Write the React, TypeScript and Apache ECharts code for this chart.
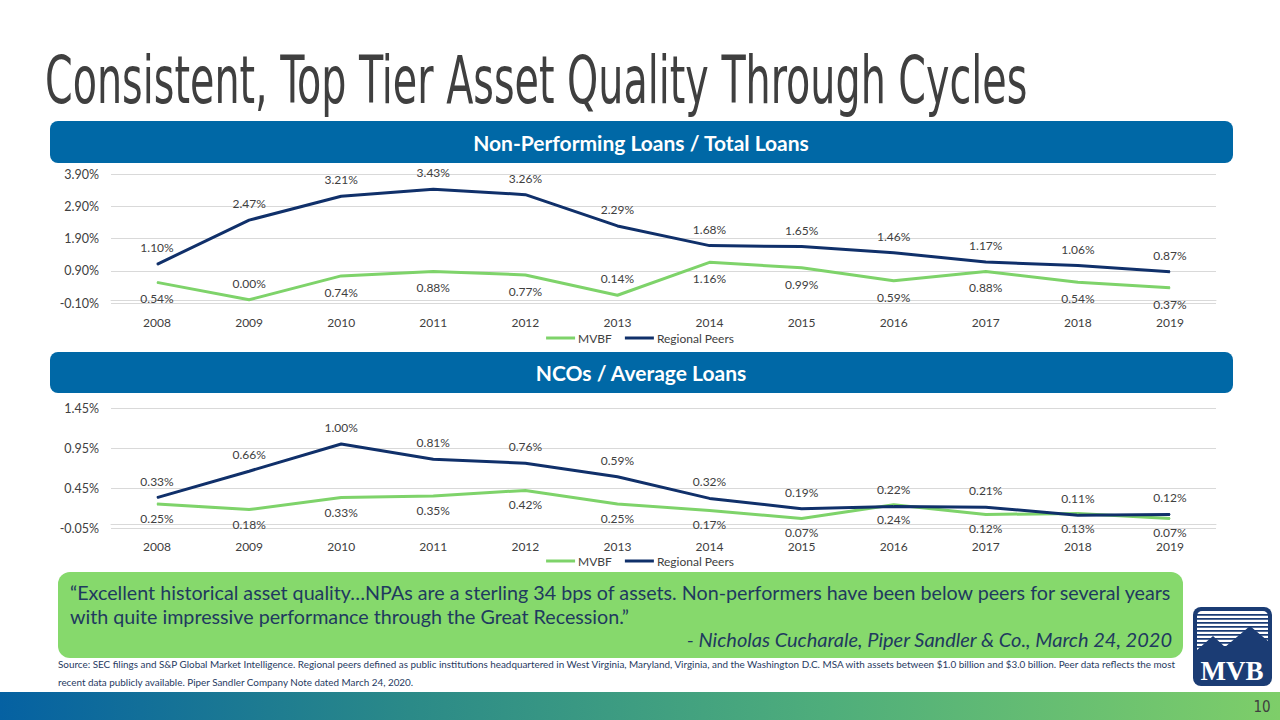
import React, { useEffect, useRef } from "react";
import * as echarts from "echarts";

const years = ["2008", "2009", "2010", "2011", "2012", "2013", "2014", "2015", "2016", "2017", "2018", "2019"];
const npMvbf = [0.54, 0.0, 0.74, 0.88, 0.77, 0.14, 1.16, 0.99, 0.59, 0.88, 0.54, 0.37];
const npPeers = [1.1, 2.47, 3.21, 3.43, 3.26, 2.29, 1.68, 1.65, 1.46, 1.17, 1.06, 0.87];
const ncoMvbf = [0.25, 0.18, 0.33, 0.35, 0.42, 0.25, 0.17, 0.07, 0.24, 0.12, 0.13, 0.07];
const ncoPeers = [0.33, 0.66, 1.0, 0.81, 0.76, 0.59, 0.32, 0.19, 0.22, 0.21, 0.11, 0.12];
const seriesNames = ["MVBF", "Regional Peers"];

const titleText = "Consistent, Top Tier Asset Quality Through Cycles";
const header1 = "Non-Performing Loans / Total Loans";
const header2 = "NCOs / Average Loans";
const quoteLine1 = "\u201CExcellent historical asset quality\u2026NPAs are a sterling 34 bps of assets. Non-performers have been below peers for several years";
const quoteLine2 = "with quite impressive performance through the Great Recession.\u201D";
const quoteAuthor = "- Nicholas Cucharale, Piper Sandler & Co., March 24, 2020";
const sourceLine1 = "Source: SEC filings and S&P Global Market Intelligence. Regional peers defined as public institutions headquartered in West Virginia, Maryland, Virginia, and the Washington D.C. MSA with assets between $1.0 billion and $3.0 billion. Peer data reflects the most";
const sourceLine2 = "recent data publicly available. Piper Sandler Company Note dated March 24, 2020.";
const pageNumber = "10";

const GREEN = "#7ED36A";
const NAVY = "#10306A";
const TXT = "#404040";
const FONT = "Lato, 'Open Sans', sans-serif";
const COND = "'DejaVu Sans Condensed', 'Liberation Sans Narrow', sans-serif";

export default function App() {
  const ref = useRef<HTMLDivElement>(null);
  useEffect(() => {
    if (!ref.current) return;
    const chart = echarts.init(ref.current, undefined, { renderer: "svg" });
    const pct = (v: number) => v.toFixed(2) + "%";
    const lbl = (pos: string, dist: number) => ({
      show: true,
      position: pos,
      distance: dist,
      fontSize: 12,
      color: TXT,
      fontFamily: FONT,
      formatter: (p: any) => pct(p.value),
    });
    const npAbove = new Set([1, 5]);
    const yAxisBase = {
      type: "value",
      axisLine: { show: false },
      axisTick: { show: false },
      splitLine: { lineStyle: { color: "#D9D9D9", width: 1 } },
      axisLabel: { fontSize: 12.5, color: TXT, fontFamily: FONT, margin: 12, formatter: (v: number) => pct(v) },
    };
    const xAxisBase = {
      type: "category",
      data: years,
      boundaryGap: true,
      axisTick: { show: false },
      axisLine: { show: true, lineStyle: { color: "#D9D9D9" } },
      axisLabel: { fontSize: 12, color: TXT, fontFamily: FONT, interval: 0 },
    };
    const lineSeries = (name: string, color: string, data: any[], xi: number, label: any) => ({
      type: "line",
      name,
      xAxisIndex: xi,
      yAxisIndex: xi,
      data,
      symbol: "circle",
      symbolSize: 1,
      showSymbol: true,
      lineStyle: { color, width: 3 },
      itemStyle: { color },
      label,
    });
    const legendBase = (top: number) => ({
      top,
      left: "center",
      icon: "rect",
      itemWidth: 29,
      itemHeight: 3,
      itemGap: 13,
      data: seriesNames,
      textStyle: { fontSize: 12, color: TXT, fontFamily: FONT, padding: [0, 0, 0, -2] },
    });

    const option: any = {
      animation: false,
      textStyle: { fontFamily: FONT },
      grid: [
        { left: 111, right: 64, top: 174, height: 129 },
        { left: 111, right: 64, top: 408, height: 120 },
      ],
      xAxis: [
        { ...xAxisBase, gridIndex: 0, axisLabel: { ...xAxisBase.axisLabel, margin: 13 } },
        { ...xAxisBase, gridIndex: 1, axisLabel: { ...xAxisBase.axisLabel, margin: 12 } },
      ],
      yAxis: [
        { ...yAxisBase, gridIndex: 0, min: -0.1, max: 3.9, interval: 1 },
        { ...yAxisBase, gridIndex: 1, min: -0.05, max: 1.45, interval: 0.5 },
      ],
      legend: [legendBase(327), legendBase(550)],
      series: [
        lineSeries(
          "MVBF",
          GREEN,
          npMvbf.map((v, i) => (npAbove.has(i) ? { value: v, label: { position: "top", distance: 10 } } : v)),
          0,
          lbl("bottom", 10)
        ),
        lineSeries("Regional Peers", NAVY, npPeers, 0, lbl("top", 10)),
        lineSeries("MVBF", GREEN, ncoMvbf, 1, lbl("bottom", 8)),
        lineSeries("Regional Peers", NAVY, ncoPeers, 1, lbl("top", 10)),
      ],
      graphic: [
        {
          type: "text",
          x: 45,
          y: 80,
          scaleX: 0.668,
          style: {
            text: titleText,
            fill: "#3F3F3F",
            font: "66px " + COND,
            verticalAlign: "middle",
          },
        },
        { type: "rect", shape: { x: 50, y: 121, width: 1183, height: 42, r: 8 }, style: { fill: "#0068A6" } },
        {
          type: "text",
          x: 641,
          y: 142,
          style: { text: header1, fill: "#fff", font: "bold 21px " + FONT, align: "center", verticalAlign: "middle" },
        },
        { type: "rect", shape: { x: 50, y: 352, width: 1183, height: 41, r: 8 }, style: { fill: "#0068A6" } },
        {
          type: "text",
          x: 641,
          y: 372,
          style: { text: header2, fill: "#fff", font: "bold 21px " + FONT, align: "center", verticalAlign: "middle" },
        },
        { type: "rect", shape: { x: 58, y: 572, width: 1125, height: 86, r: 12 }, style: { fill: "#86D96C" } },
        {
          type: "text",
          x: 70,
          y: 592,
          style: { text: quoteLine1, fill: "#1F3A5F", font: "19.7px " + FONT, verticalAlign: "middle" },
        },
        {
          type: "text",
          x: 70,
          y: 616,
          style: { text: quoteLine2, fill: "#1F3A5F", font: "19.7px " + FONT, verticalAlign: "middle" },
        },
        {
          type: "text",
          x: 1172,
          y: 639,
          style: { text: quoteAuthor, fill: "#1F3A5F", font: "italic 20px " + FONT, align: "right", verticalAlign: "middle" },
        },
        {
          type: "text",
          x: 58,
          y: 664,
          style: { text: sourceLine1, fill: "#1F3A5F", font: "9.9px " + FONT, verticalAlign: "middle" },
        },
        {
          type: "text",
          x: 58,
          y: 682,
          style: { text: sourceLine2, fill: "#1F3A5F", font: "9.9px " + FONT, verticalAlign: "middle" },
        },
        // logo
        { type: "rect", shape: { x: 1193, y: 607, width: 79, height: 79, r: 8 }, style: { fill: "#1B3C74" } },
        { type: "rect", shape: { x: 1197, y: 611, width: 71, height: 48, r: [5, 5, 0, 0] }, style: { fill: "#FFFFFF" } },
        ...[614, 618, 622, 626, 630, 634, 638, 642, 646, 650].map((yy) => ({
          type: "rect",
          shape: { x: 1197, y: yy, width: 71, height: 1.8 },
          style: { fill: "#1B3C74" },
        })),
        {
          type: "polygon",
          shape: {
            points: [
              [1197, 650],
              [1213, 636],
              [1225, 647],
              [1250, 626],
              [1268, 641],
              [1268, 660],
              [1197, 660],
            ],
          },
          style: { fill: "#1B3C74" },
        },
        {
          type: "text",
          x: 1232,
          y: 671,
          style: {
            text: "MVB",
            fill: "#FFFFFF",
            font: "bold 27px 'Liberation Serif', 'DejaVu Serif', serif",
            align: "center",
            verticalAlign: "middle",
          },
        },
        // bottom bar
        {
          type: "rect",
          shape: { x: 0, y: 692, width: 1280, height: 28 },
          style: {
            fill: new echarts.graphic.LinearGradient(0, 0, 1, 0, [
              { offset: 0, color: "#0561A2" },
              { offset: 0.32, color: "#2B8A88" },
              { offset: 0.65, color: "#4FAE7B" },
              { offset: 1, color: "#7ECE69" },
            ]),
          },
        },
        {
          type: "text",
          x: 1262,
          y: 707,
          style: {
            text: pageNumber,
            fill: "#3F3F3F",
            font: "15px " + COND,
            align: "center",
            verticalAlign: "middle",
          },
        },
      ],
    };
    chart.setOption(option);
    return () => chart.dispose();
  }, []);
  return (
    <div
      ref={ref}
      style={{ position: "absolute", left: 0, top: 0, width: 1280, height: 720, background: "#fff" }}
    />
  );
}
